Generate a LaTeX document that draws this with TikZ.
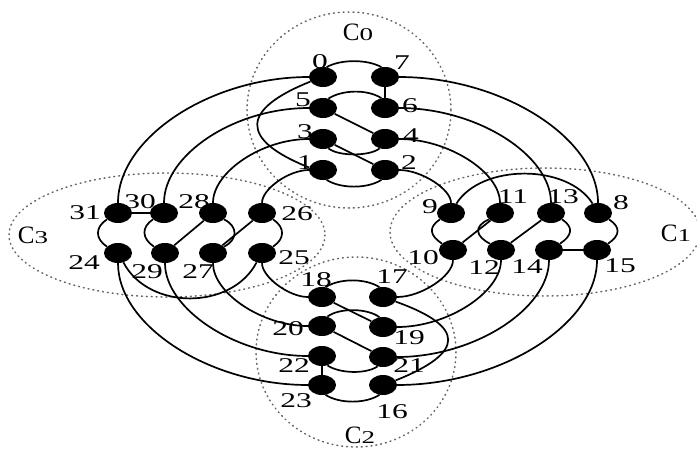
\documentclass[tikz,border=0pt]{standalone}
\usepackage{fontspec}
\setmainfont{Liberation Serif}
\usetikzlibrary{shapes.geometric}
\newcommand\sxl[1]{\scalebox{1.5}[1]{#1}}
\newcommand\clab[1]{{\fontsize{25}{25}\selectfont C}\sxl{\fontsize{18}{18}\selectfont #1}}
\begin{document}
\begin{tikzpicture}[x=1pt,y=-1pt,
  v/.style={ellipse,fill=black,minimum width=28pt,minimum height=20pt,inner sep=0pt},
  e/.style={line width=1.7pt},
  cl/.style={draw=black!60,line width=1.5pt,dash pattern=on 0.9pt off 4pt,line cap=round},
  lb/.style={font=\fontsize{21}{21}\selectfont,inner sep=0pt}]
\useasboundingbox (0,0) rectangle (697,448);
% cluster outlines
\draw[cl] (349,110) ellipse [x radius=102, y radius=98];
\draw[cl] (545,232) ellipse [x radius=155, y radius=64];
\draw[cl] (356,352) ellipse [x radius=100, y radius=95];
\draw[cl] (167,235) ellipse [x radius=158, y radius=62];
\node[lb] (c0) at (358,32) {\clab{0}};
\node[lb] (c1) at (676,233) {\clab{1}};
\node[lb] (c2) at (360,435) {\clab{2}};
\node[lb] (c3) at (33,235) {\clab{3}};
% nodes
\node[v] (n0) at (323,77) {};
\node[v] (n7) at (385,77) {};
\node[v] (n5) at (323,108) {};
\node[v] (n6) at (385,108) {};
\node[v] (n3) at (323,139) {};
\node[v] (n4) at (385,139) {};
\node[v] (n1) at (323,170) {};
\node[v] (n2) at (385,170) {};
\node[v] (n9) at (451,213) {};
\node[v] (n11) at (500,213) {};
\node[v] (n13) at (551,213) {};
\node[v] (n8) at (598,213) {};
\node[v] (n10) at (453,250) {};
\node[v] (n12) at (501,250) {};
\node[v] (n14) at (549,250) {};
\node[v] (n15) at (597,250) {};
\node[v] (n18) at (322,297) {};
\node[v] (n17) at (383,297) {};
\node[v] (n20) at (322,326) {};
\node[v] (n19) at (383,327) {};
\node[v] (n22) at (322,356) {};
\node[v] (n21) at (383,357) {};
\node[v] (n23) at (322,385) {};
\node[v] (n16) at (383,385) {};
\node[v] (n31) at (118,213) {};
\node[v] (n30) at (164,213) {};
\node[v] (n28) at (213,213) {};
\node[v] (n26) at (262,213) {};
\node[v] (n24) at (118,253) {};
\node[v] (n29) at (165,253) {};
\node[v] (n27) at (213,253) {};
\node[v] (n25) at (262,253) {};
% C0 internal
\draw[e] (n0.70) .. controls +(14,-8) and +(-14,-8) .. (n7.110);
\draw[e] (n7) -- (n6);
\draw[e] (n5.60) .. controls +(14,-9) and +(-14,-9) .. (n6.110);
\draw[e] (n5) -- (n4);
\draw[e] (n4.240) .. controls +(-10,8) and +(10,8) .. (n3.300);
\draw[e] (n3) -- (n2);
\draw[e] (n2.250) .. controls +(-14,9) and +(14,9) .. (n1.290);
\draw[e] (n0.200) .. controls +(-70,28) and +(-70,-28) .. (n1.170);
% C1 internal
\draw[e] (n8.-30) .. controls +(12,8) and +(12,-8) .. (n15.30);
\draw[e] (n15) -- (n14);
\draw[e] (n13.-30) .. controls +(12,8) and +(12,-8) .. (n14.30);
\draw[e] (n13) -- (n12);
\draw[e] (n11.210) .. controls +(-16,7) and +(-14,-7) .. (n12.150);
\draw[e] (n11) -- (n10);
\draw[e] (n9.210) .. controls +(-12,8) and +(-12,-8) .. (n10.150);
\draw[e] (n8.120) .. controls +(-25,-40) and +(25,-40) .. (n9.60);
% C2 internal
\draw[e] (n16.250) .. controls +(-14,9) and +(14,9) .. (n23.290);
\draw[e] (n23) -- (n22);
\draw[e] (n22.300) .. controls +(12,8) and +(-12,8) .. (n21.240);
\draw[e] (n21) -- (n20);
\draw[e] (n20.60) .. controls +(12,-9) and +(-12,-9) .. (n19.110);
\draw[e] (n19) -- (n18);
\draw[e] (n18.70) .. controls +(14,-9) and +(-14,-9) .. (n17.110);
\draw[e] (n17.-20) .. controls +(70,25) and +(70,-28) .. (n16.20);
% C3 internal
\draw[e] (n24.150) .. controls +(-12,-8) and +(-12,8) .. (n31.210);
\draw[e] (n31) -- (n30);
\draw[e] (n30.210) .. controls +(-12,8) and +(-12,-8) .. (n29.150);
\draw[e] (n29) -- (n28);
\draw[e] (n28.-30) .. controls +(14,7) and +(14,-7) .. (n27.30);
\draw[e] (n27) -- (n26);
\draw[e] (n26.-30) .. controls +(12,8) and +(12,-8) .. (n25.30);
\draw[e] (n25.-120) .. controls +(-25,48) and +(25,48) .. (n24.-60);
% C0 - C3
\draw[e] (n0) .. controls +(-113,0) and +(0,-75) .. (n31);
\draw[e] (n5) .. controls +(-89,0) and +(0,-58) .. (n30);
\draw[e] (n3) .. controls +(-61,0) and +(0,-41) .. (n28);
\draw[e] (n1) .. controls +(-34,0) and +(0,-24) .. (n26);
% C0 - C1
\draw[e] (n7) .. controls +(117,0) and +(0,-75) .. (n8);
\draw[e] (n6) .. controls +(92,0) and +(0,-58) .. (n13);
\draw[e] (n4) .. controls +(63,0) and +(0,-41) .. (n11);
\draw[e] (n2) .. controls +(36,0) and +(0,-24) .. (n9);
% C1 - C2
\draw[e] (n15) .. controls +(0,74) and +(118,0) .. (n16);
\draw[e] (n14) .. controls +(0,59) and +(91,0) .. (n21);
\draw[e] (n12) .. controls +(0,42) and +(65,0) .. (n19);
\draw[e] (n10) .. controls +(0,26) and +(38,0) .. (n17);
% C2 - C3
\draw[e] (n23) .. controls +(-112,0) and +(0,73) .. (n24);
\draw[e] (n22) .. controls +(-86,0) and +(0,56) .. (n29);
\draw[e] (n20) .. controls +(-60,0) and +(0,40) .. (n27);
\draw[e] (n18) .. controls +(-33,0) and +(0,24) .. (n25);
% labels
\node[lb] (l0) at (320,62) {\sxl{0}};
\node[lb] (l7) at (402,63) {\sxl{7}};
\node[lb] (l5) at (303,100) {\sxl{5}};
\node[lb] (l6) at (410,106) {\sxl{6}};
\node[lb] (l3) at (305,132) {\sxl{3}};
\node[lb] (l4) at (411,136) {\sxl{4}};
\node[lb] (l1) at (305,163) {\sxl{1}};
\node[lb] (l2) at (409,163) {\sxl{2}};
\node[lb] (l9) at (430,207) {\sxl{9}};
\node[lb] (l11) at (513,197) {\sxl{11}};
\node[lb] (l13) at (563,197) {\sxl{13}};
\node[lb] (l8) at (621,203) {\sxl{8}};
\node[lb] (l10) at (423,258) {\sxl{10}};
\node[lb] (l12) at (484,268) {\sxl{12}};
\node[lb] (l14) at (527,267) {\sxl{14}};
\node[lb] (l15) at (620,266) {\sxl{15}};
\node[lb] (l18) at (316,280) {\sxl{18}};
\node[lb] (l17) at (392,277) {\sxl{17}};
\node[lb] (l20) at (288,329) {\sxl{20}};
\node[lb] (l19) at (409,338) {\sxl{19}};
\node[lb] (l22) at (294,366) {\sxl{22}};
\node[lb] (l21) at (409,366) {\sxl{21}};
\node[lb] (l23) at (296,401) {\sxl{23}};
\node[lb] (l16) at (392,412) {\sxl{16}};
\node[lb] (l31) at (85,213) {\sxl{31}};
\node[lb] (l30) at (140,202) {\sxl{30}};
\node[lb] (l28) at (194,202) {\sxl{28}};
\node[lb] (l26) at (297,214) {\sxl{26}};
\node[lb] (l24) at (84,263) {\sxl{24}};
\node[lb] (l29) at (147,272) {\sxl{29}};
\node[lb] (l27) at (198,272) {\sxl{27}};
\node[lb] (l25) at (294,258) {\sxl{25}};
\end{tikzpicture}
\end{document}
